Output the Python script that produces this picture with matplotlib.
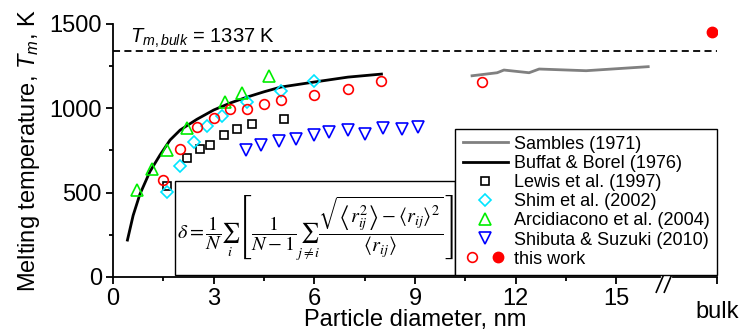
import matplotlib.pyplot as plt
from matplotlib.patches import Rectangle
from matplotlib.legend_handler import HandlerTuple

plt.rcParams['font.family'] = ['Liberation Sans', 'DejaVu Sans']
plt.rcParams['mathtext.fontset'] = 'custom'
plt.rcParams['mathtext.rm'] = 'Liberation Sans'
plt.rcParams['mathtext.it'] = 'Liberation Sans:italic'

# melting temperature of bulk gold
T_bulk = 1337

# Sambles (1971), grey line
sambles_d = [10.7, 11.45, 11.65, 12.4, 12.7, 14.1, 15.95]
sambles_T = [1193, 1211, 1227, 1211, 1233, 1223, 1247]

# Buffat & Borel (1976), black line
buffat_d = [0.43, 0.6, 0.8, 1.1, 1.4, 1.7, 2.0, 2.5, 3.0, 3.5, 4.0, 4.5, 5.0, 6.0, 7.0, 8.0]
buffat_T = [219, 365, 490, 625, 723, 812, 871, 935, 990, 1032, 1067, 1098, 1126, 1156, 1185, 1203]

# Lewis et al. (1997)
lewis_d = [1.6, 2.2, 2.6, 2.9, 3.3, 3.7, 4.15, 5.1]
lewis_T = [540, 705, 760, 780, 840, 875, 905, 935]

# Shim et al. (2002)
shim_d = [1.6, 2.0, 2.4, 2.8, 3.25, 4.0, 5.0, 6.0]
shim_T = [505, 660, 800, 895, 955, 1035, 1105, 1160]

# Arcidiacono et al. (2004)
arc_d = [0.7, 1.15, 1.6, 2.2, 3.35, 3.85, 4.65]
arc_T = [515, 640, 750, 885, 1040, 1090, 1190]

# Shibuta & Suzuki (2010)
shib_d = [3.95, 4.4, 4.95, 5.45, 6.0, 6.45, 7.0, 7.5, 8.05, 8.6, 9.1]
shib_T = [750, 780, 808, 818, 842, 860, 870, 850, 882, 878, 890]

# this work
work_d = [1.5, 2.0, 2.5, 3.0, 3.5, 4.0, 4.5, 5.0, 6.0, 7.0, 8.0, 11.0]
work_T = [575, 760, 889, 942, 996, 996, 1025, 1049, 1080, 1115, 1162, 1156]
bulk_d = [17.85]
bulk_T = [1450]

labels = ['Sambles (1971)', 'Buffat & Borel (1976)', 'Lewis et al. (1997)',
          'Shim et al. (2002)', 'Arcidiacono et al. (2004)',
          'Shibuta & Suzuki (2010)', 'this work']

fig = plt.figure(figsize=(7.44, 3.36), dpi=100)
ax = fig.add_axes([0.1519, 0.1756, 0.8118, 0.753])

h_sam, = ax.plot(sambles_d, sambles_T, color='#808080', lw=2)
h_buf, = ax.plot(buffat_d, buffat_T, color='black', lw=2)
h_lew, = ax.plot(lewis_d, lewis_T, ls='none', marker='s', ms=6, mfc='none', mec='black', mew=1.2)
h_shim, = ax.plot(shim_d, shim_T, ls='none', marker='D', ms=6.5, mfc='none', mec='#00e5ff', mew=1.2)
h_arc, = ax.plot(arc_d, arc_T, ls='none', marker='^', ms=9, mfc='none', mec='#00ee00', mew=1.2)
h_shib, = ax.plot(shib_d, shib_T, ls='none', marker='v', ms=8, mfc='none', mec='#0000ff', mew=1.2)
h_work, = ax.plot(work_d, work_T, ls='none', marker='o', ms=7, mfc='none', mec='#ff0000', mew=1.2)
h_bulk, = ax.plot(bulk_d, bulk_T, ls='none', marker='o', ms=7.5, color='#ff0000')

ax.axhline(T_bulk, color='black', lw=1.3, ls=(0, (3.9, 2.4)))
ax.text(0.5, 1387, r'$T_{m,bulk}$ = 1337 K', fontsize=14.5, va='baseline')

ax.set_xlim(0, 18)
ax.set_ylim(0, 1500)
ax.spines['top'].set_visible(False)
ax.spines['right'].set_visible(False)
for s in ('left', 'bottom'):
    ax.spines[s].set_linewidth(1.3)

ax.set_xticks([0, 3, 6, 9, 12, 15, 18])
ax.set_xticklabels(['0', '3', '6', '9', '12', '15', ''])
ax.set_xticks([1.5, 4.5, 7.5, 10.5, 13.5], minor=True)
ax.set_yticks([0, 500, 1000, 1500])
ax.set_yticks([250, 750, 1250], minor=True)
ax.tick_params(which='major', direction='out', length=5, width=1.3, labelsize=17, pad=3)
ax.tick_params(which='minor', direction='out', length=3, width=1.3)

ax.set_xlabel('Particle diameter, nm', fontsize=17)
ax.xaxis.set_label_coords(0.5, -0.125)
ax.set_ylabel('Melting temperature, $T_m$, K', fontsize=17, va='center')
ax.yaxis.set_label_coords(-0.139, 0.5)

trans = ax.get_xaxis_transform()
ax.text(18, -0.138, 'bulk', fontsize=17, ha='center', va='center', transform=trans)

# axis break
ax.plot([16.40, 16.61], [0, 0], color='white', lw=3, transform=trans, clip_on=False, zorder=4)
for x0 in (16.19, 16.43):
    ax.plot([x0, x0 + 0.32], [-0.06, 0.04], color='black', lw=1.2,
            transform=trans, clip_on=False, zorder=5)

leg = ax.legend([h_sam, h_buf, h_lew, h_shim, h_arc, h_shib, (h_work, h_bulk)], labels,
                handler_map={tuple: HandlerTuple(ndivide=None, pad=0.3)},
                loc='lower right', bbox_to_anchor=(1, 0.008), borderaxespad=0,
                fontsize=13, fancybox=False, edgecolor='black', framealpha=1,
                handlelength=2.5, handletextpad=0.35, labelspacing=0.12, borderpad=0.4)
leg.get_frame().set_linewidth(1.0)
leg.set_zorder(6)

# inset with the definition of delta
ax.add_patch(Rectangle((0.103, 0.008), 0.463, 0.372, transform=ax.transAxes,
                       fc='white', ec='black', lw=1, zorder=4))
eq = (r'$\delta = \dfrac{1}{N}\sum_{i}\left[\dfrac{1}{N-1}\sum_{j\neq i}'
      r'\dfrac{\sqrt{\left\langle r_{ij}^{2}\right\rangle - \left\langle r_{ij}\right\rangle^{2}}}'
      r'{\left\langle r_{ij}\right\rangle}\right]$')
ax.text(0.3345, 0.194, eq, transform=ax.transAxes, fontsize=14.5, ha='center', va='center',
        math_fontfamily='stix', zorder=5)

fig.savefig('out.png', dpi=100)
